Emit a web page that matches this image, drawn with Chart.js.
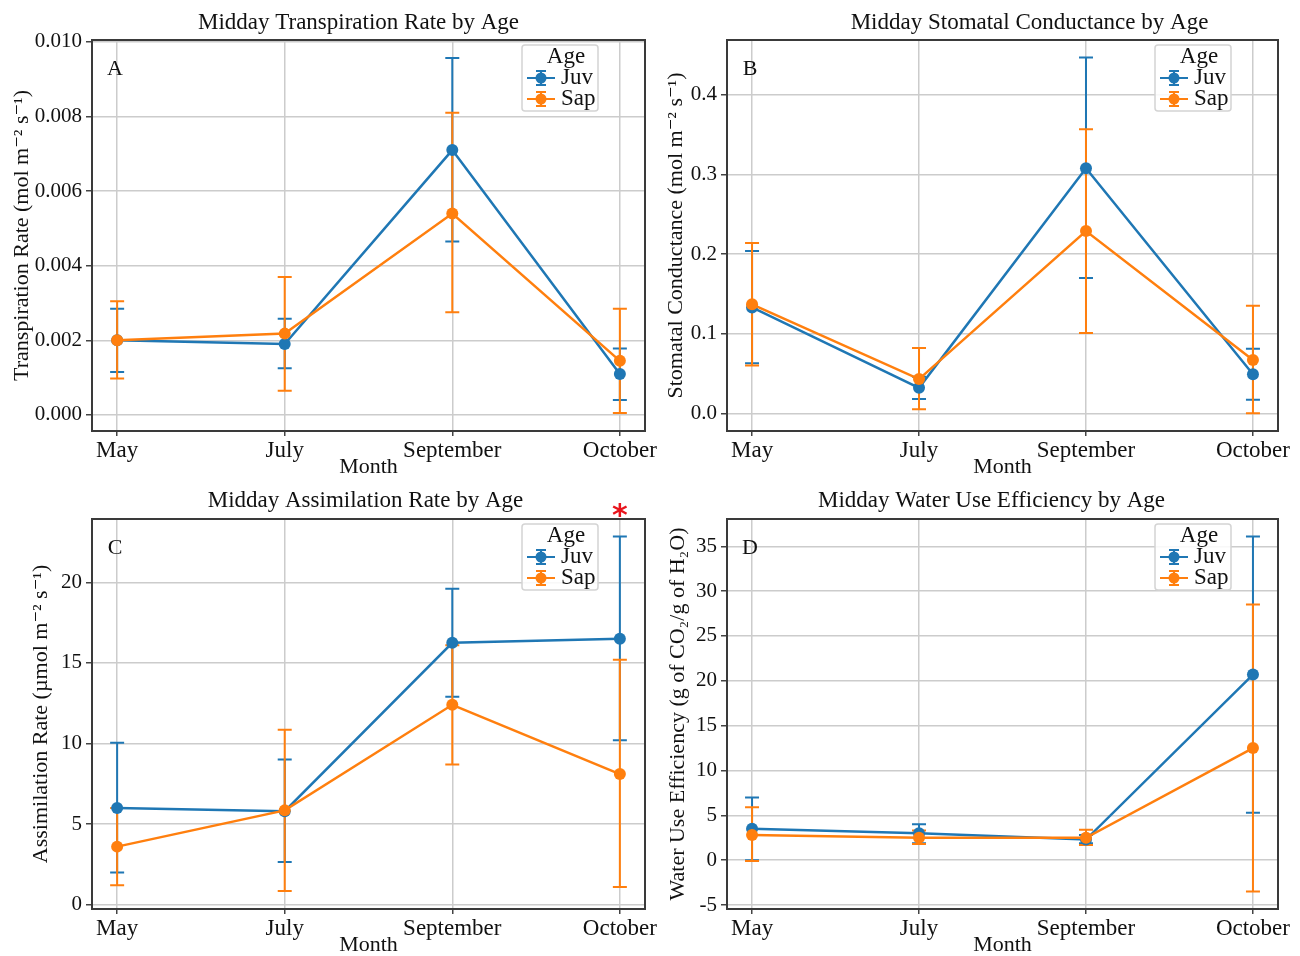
<!DOCTYPE html>
<html>
<head>
<meta charset="utf-8">
<script src="https://cdn.jsdelivr.net/npm/chart.js@4.4.1/dist/chart.umd.min.js"></script>
<style>
  body { margin: 0; background: #fff; }
  #wrap { position: relative; width: 1300px; height: 956px; background: #fff; overflow: hidden; }
  .cell { position: absolute; height: 478px; }
</style>
</head>
<body>
<div id="wrap">
  <div class="cell" style="left:0;top:0"><canvas id="chA" width="680" height="478"></canvas></div>
  <div class="cell" style="left:0;top:478px"><canvas id="chC" width="680" height="478"></canvas></div>
  <div class="cell" style="left:650px;top:0"><canvas id="chB" width="650" height="478"></canvas></div>
  <div class="cell" style="left:650px;top:478px"><canvas id="chD" width="650" height="478"></canvas></div>
</div>
<script>
var months = ['May', 'July', 'September', 'October'];
var seriesNames = ['Juv', 'Sap'];
var seriesColors = ['#1f77b4', '#ff7f0e'];

// A - transpiration
var transJuv = [0.0020, 0.0019, 0.0071, 0.0011];
var transJuvLow = [0.00115, 0.00125, 0.00465, 0.0004];
var transJuvHigh = [0.00285, 0.00258, 0.00957, 0.00178];
var transSap = [0.0020, 0.00218, 0.0054, 0.00145];
var transSapLow = [0.00098, 0.00065, 0.00275, 0.00005];
var transSapHigh = [0.00305, 0.0037, 0.0081, 0.00285];
var transTicks = [0, 0.002, 0.004, 0.006, 0.008, 0.010];

// B - stomatal conductance
var condJuv = [0.133, 0.032, 0.308, 0.049];
var condJuvLow = [0.063, 0.018, 0.170, 0.017];
var condJuvHigh = [0.204, 0.046, 0.447, 0.081];
var condSap = [0.137, 0.043, 0.229, 0.067];
var condSapLow = [0.060, 0.005, 0.101, 0.0];
var condSapHigh = [0.214, 0.082, 0.357, 0.135];
var condTicks = [0.0, 0.1, 0.2, 0.3, 0.4];

// C - assimilation
var assimJuv = [6.0, 5.8, 16.25, 16.5];
var assimJuvLow = [2.0, 2.65, 12.9, 10.2];
var assimJuvHigh = [10.05, 9.0, 19.6, 22.85];
var assimSap = [3.6, 5.85, 12.4, 8.1];
var assimSapLow = [1.2, 0.85, 8.7, 1.1];
var assimSapHigh = [6.0, 10.85, 16.1, 15.2];
var assimTicks = [0, 5, 10, 15, 20];

// D - water use efficiency
var wueJuv = [3.5, 3.0, 2.3, 20.7];
var wueJuvLow = [0.0, 1.9, 1.9, 5.3];
var wueJuvHigh = [7.0, 4.0, 2.8, 36.1];
var wueSap = [2.8, 2.5, 2.5, 12.5];
var wueSapLow = [-0.1, 1.8, 1.7, -3.5];
var wueSapHigh = [5.9, 3.3, 3.4, 28.5];
var wueTicks = [-5, 0, 5, 10, 15, 20, 25, 30, 35];

var serif = "'Liberation Serif', 'Times New Roman', 'DejaVu Serif', serif";
Chart.defaults.font.family = serif;
Chart.defaults.color = '#111';

function points(vals) {
    return vals.map(function(v, i) { return { x: i, y: v }; });
}

var panelPlugin = {
    id: 'panel',
    beforeDatasetsDraw: function(chart) {
        var ctx = chart.ctx, xs = chart.scales.x, ys = chart.scales.y;
        ctx.save();
        ctx.lineWidth = 2;
        chart.data.datasets.forEach(function(ds) {
            ctx.strokeStyle = ds.borderColor;
            ds.errLow.forEach(function(lo, i) {
                var x = xs.getPixelForValue(i);
                var y1 = ys.getPixelForValue(lo), y2 = ys.getPixelForValue(ds.errHigh[i]);
                ctx.beginPath();
                ctx.moveTo(x, y1); ctx.lineTo(x, y2);
                ctx.moveTo(x - 7, y1); ctx.lineTo(x + 7, y1);
                ctx.moveTo(x - 7, y2); ctx.lineTo(x + 7, y2);
                ctx.stroke();
            });
        });
        ctx.restore();
    },
    afterDatasetsDraw: function(chart) {
        var a = chart.chartArea, ctx = chart.ctx;
        ctx.save();
        ctx.strokeStyle = '#3a3a3a';
        ctx.lineWidth = 2;
        ctx.strokeRect(a.left, a.top, a.right - a.left, a.bottom - a.top);
        ctx.restore();
    },
    afterDraw: function(chart) {
        var a = chart.chartArea, ctx = chart.ctx, opt = chart.options.panel;
        ctx.save();
        ctx.fillStyle = '#111';
        ctx.font = '23px ' + serif;
        ctx.textAlign = 'center';
        ctx.textBaseline = 'middle';
        ctx.fillText(opt.title, (a.left + a.right) / 2 + opt.titleDx, 23);
        ctx.font = '22px ' + serif;
        ctx.fillText(opt.letter, a.left + 23, a.top + 29);

        // legend
        var lw = 76, lh = 66;
        var lx = a.right - 47 - lw, ly = a.top + 5;
        ctx.fillStyle = 'rgba(255,255,255,0.85)';
        ctx.strokeStyle = '#d4d4d4';
        ctx.lineWidth = 1.5;
        ctx.beginPath();
        ctx.roundRect(lx, ly, lw, lh, 3);
        ctx.fill(); ctx.stroke();
        ctx.fillStyle = '#111';
        ctx.font = '23px ' + serif;
        ctx.fillText('Age', lx + lw / 2 + 6, ly + 12);
        chart.data.datasets.forEach(function(ds, k) {
            var cy = ly + 33 + k * 21, cx = lx + 19;
            ctx.strokeStyle = ds.borderColor;
            ctx.lineWidth = 2;
            ctx.beginPath();
            ctx.moveTo(lx + 5, cy); ctx.lineTo(lx + 33, cy);
            ctx.moveTo(cx, cy - 7); ctx.lineTo(cx, cy + 7);
            ctx.moveTo(cx - 5, cy - 7); ctx.lineTo(cx + 5, cy - 7);
            ctx.moveTo(cx - 5, cy + 7); ctx.lineTo(cx + 5, cy + 7);
            ctx.stroke();
            ctx.fillStyle = ds.borderColor;
            ctx.beginPath();
            ctx.arc(cx, cy, 5.5, 0, Math.PI * 2);
            ctx.fill();
            ctx.fillStyle = '#111';
            ctx.textAlign = 'left';
            ctx.fillText(ds.label, lx + 39, cy);
            ctx.textAlign = 'center';
        });

        if (opt.star !== undefined) {
            ctx.fillStyle = '#e8141c';
            ctx.font = 'bold 30px "DejaVu Sans"';
            ctx.fillText('*', chart.scales.x.getPixelForValue(months.indexOf(opt.star)), a.top - 2);
        }
        ctx.restore();
    }
};

function makeChart(id, cfg) {
    var datasets = cfg.series.map(function(s, k) {
        return {
            label: seriesNames[k],
            data: points(s.vals),
            errLow: s.low,
            errHigh: s.high,
            borderColor: seriesColors[k],
            backgroundColor: seriesColors[k],
            borderWidth: 2.5,
            pointRadius: 6,
            pointBorderWidth: 0,
            order: 1 - k
        };
    });
    var gridOpt = { color: '#cccccc', lineWidth: 1.5, tickColor: '#444', tickWidth: 1.5 };
    new Chart(document.getElementById(id), {
        type: 'line',
        data: { datasets: datasets },
        options: {
            responsive: false,
            animation: false,
            layout: { padding: { left: 0, right: cfg.padRight, top: cfg.padTop, bottom: 0 } },
            panel: { title: cfg.title, titleDx: cfg.titleDx, letter: cfg.letter, star: cfg.star },
            plugins: { legend: { display: false }, tooltip: { enabled: false } },
            scales: {
                x: {
                    type: 'linear', min: -0.15, max: 3.15,
                    afterBuildTicks: function(s) { s.ticks = months.map(function(m, i) { return { value: i }; }); },
                    afterFit: function(s) { s.height = 47; s.paddingLeft = 0; s.paddingRight = 0; },
                    ticks: { callback: function(v) { return months[v]; }, font: { size: 23 }, padding: 1, maxRotation: 0, autoSkip: false, color: '#111' },
                    grid: Object.assign({ tickLength: 5 }, gridOpt),
                    border: { display: false },
                    title: { display: true, text: 'Month', font: { size: 22, lineHeight: 1 }, color: '#111', padding: { top: 0, bottom: 0 } }
                },
                y: {
                    min: cfg.yMin, max: cfg.yMax,
                    afterBuildTicks: function(s) { s.ticks = cfg.ticks.map(function(v) { return { value: v }; }); },
                    afterFit: function(s) { s.width = cfg.yWidth; s.paddingTop = 0; s.paddingBottom = 0; },
                    ticks: { callback: function(v) { return v.toFixed(cfg.decimals); }, font: { size: 21 }, padding: 4, color: '#111' },
                    grid: Object.assign({ tickLength: 6 }, gridOpt),
                    border: { display: false },
                    title: { display: true, text: cfg.yTitle, font: { size: 22, lineHeight: 1 }, color: '#111', padding: { top: cfg.yTitlePad, bottom: 0 } }
                }
            }
        },
        plugins: [panelPlugin]
    });
}

makeChart('chA', {
    title: 'Midday Transpiration Rate by Age', titleDx: -10, letter: 'A',
    yTitle: 'Transpiration Rate (mol m\u207B\u00B2 s\u207B\u00B9)', yTitlePad: 11,
    yWidth: 92, padRight: 35, padTop: 40,
    yMin: -0.00043, yMax: 0.01005, ticks: transTicks, decimals: 3,
    series: [
        { vals: transJuv, low: transJuvLow, high: transJuvHigh },
        { vals: transSap, low: transSapLow, high: transSapHigh }
    ]
});
makeChart('chB', {
    title: 'Midday Stomatal Conductance by Age', titleDx: 27, letter: 'B',
    yTitle: 'Stomatal Conductance (mol m\u207B\u00B2 s\u207B\u00B9)', yTitlePad: 15,
    yWidth: 77, padRight: 22, padTop: 40,
    yMin: -0.0222, yMax: 0.469, ticks: condTicks, decimals: 1,
    series: [
        { vals: condJuv, low: condJuvLow, high: condJuvHigh },
        { vals: condSap, low: condSapLow, high: condSapHigh }
    ]
});
makeChart('chC', {
    title: 'Midday Assimilation Rate by Age', titleDx: -3, letter: 'C', star: 'October',
    yTitle: 'Assimilation Rate (\u00B5mol m\u207B\u00B2 s\u207B\u00B9)', yTitlePad: 30,
    yWidth: 92, padRight: 35, padTop: 41,
    yMin: -0.27, yMax: 23.93, ticks: assimTicks, decimals: 0,
    series: [
        { vals: assimJuv, low: assimJuvLow, high: assimJuvHigh },
        { vals: assimSap, low: assimSapLow, high: assimSapHigh }
    ]
});
makeChart('chD', {
    title: 'Midday Water Use Efficiency by Age', titleDx: -11, letter: 'D',
    yTitle: 'Water Use Efficiency (g of CO\u2082/g of H\u2082O)', yTitlePad: 17,
    yWidth: 77, padRight: 22, padTop: 41,
    yMin: -5.44, yMax: 38.04, ticks: wueTicks, decimals: 0,
    series: [
        { vals: wueJuv, low: wueJuvLow, high: wueJuvHigh },
        { vals: wueSap, low: wueSapLow, high: wueSapHigh }
    ]
});
</script>
</body>
</html>
